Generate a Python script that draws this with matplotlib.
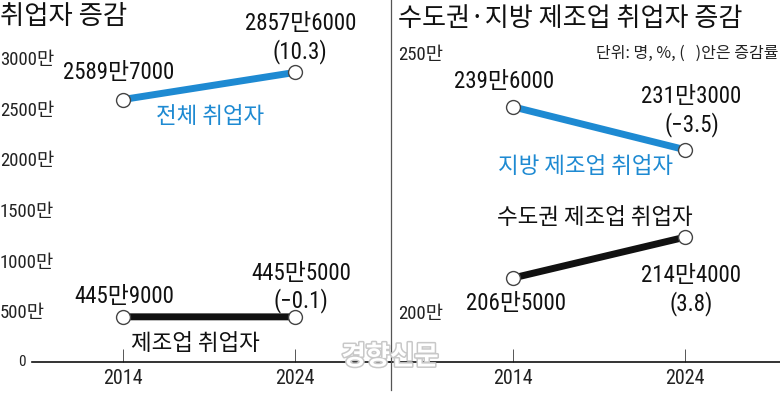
import matplotlib
matplotlib.use("Agg")
import matplotlib.pyplot as plt
from matplotlib.lines import Line2D
import matplotlib.patheffects as pe

# ---------------- data ----------------
years = [2014, 2024]
total_emp = [2589.7, 2857.6]          # 만 명
mfg_emp = [445.9, 445.5]
total_labels = ["2589만7000", "2857만6000"]
mfg_labels = ["445만9000", "445만5000"]
total_rate = "(10.3)"
mfg_rate = "(−0.1)"

region_mfg = [239.6, 231.3]
capital_mfg = [206.5, 214.4]
region_labels = ["239만6000", "231만3000"]
capital_labels = ["206만5000", "214만4000"]
region_rate = "(−3.5)"
capital_rate = "(3.8)"

left_yticks = [500, 1000, 1500, 2000, 2500, 3000]
left_yticklabels = ["500만", "1000만", "1500만", "2000만", "2500만", "3000만"]
right_yticks = [200, 250]
right_yticklabels = ["200만", "250만"]
xtick_labels = ["2014", "2024"]

# ---------------- style ----------------
W, H, DPI = 780, 394, 100
BLUE = "#1e8ad2"
NUM = ["Roboto Condensed", "Archivo Narrow", "Noto Sans CJK KR", "DejaVu Sans"]
KR = ["Noto Sans CJK KR", "DejaVu Sans"]
plt.rcParams["font.family"] = NUM

fig = plt.figure(figsize=(W / DPI, H / DPI), dpi=DPI)

def px_ax(x0, x1, ytop, ybot):
    return fig.add_axes([x0 / W, 1 - ybot / H, (x1 - x0) / W, (ybot - ytop) / H])

ax1 = px_ax(32, 390, 40, 362)
ax2 = px_ax(390, 780, 40, 362)

ax1.set_xlim(2008.74, 2029.51)
ax1.set_ylim(0, 3177.6)
ax2.set_xlim(2006.88, 2029.51)
ax2.set_ylim(190.28, 252.5)

for ax in (ax1, ax2):
    for s in ("top", "right", "left"):
        ax.spines[s].set_visible(False)
    ax.spines["bottom"].set_linewidth(1.2)
    ax.spines["bottom"].set_color("#111111")
    ax.set_xticks(years)
    ax.set_xticklabels(xtick_labels, fontsize=14.5)
    ax.tick_params(axis="x", direction="in", length=9.5, width=0.7, color="#555555",
                   pad=5, labelcolor="#222222")
    ax.patch.set_alpha(0)

ax1.set_yticks(left_yticks)
ax1.set_yticklabels(left_yticklabels, fontsize=13.5, ha="left")
ax1.tick_params(axis="y", length=0, pad=23.0, labelcolor="#222222")
ax1.annotate("0", xy=(0, 0), xycoords=("axes fraction", "data"), xytext=(-10, 0),
             textcoords="offset pixels", ha="center", va="center", fontsize=11, color="#222222")

ax2.set_yticks(right_yticks)
ax2.set_yticklabels(right_yticklabels, fontsize=13.5, ha="left")
ax2.tick_params(axis="y", length=0, pad=-5.8, labelcolor="#222222")

mk = dict(marker="o", markersize=10, markerfacecolor="white", markeredgecolor="#444444",
          markeredgewidth=1.0, solid_capstyle="butt", zorder=3)
ax1.plot(years, total_emp, color=BLUE, lw=5, **mk)
ax1.plot(years, mfg_emp, color="#111111", lw=5, **mk)
ax2.plot(years, region_mfg, color=BLUE, lw=5, **mk)
ax2.plot(years, capital_mfg, color="#111111", lw=5, **mk)

LBL = dict(textcoords="offset pixels", ha="center", va="center", fontsize=16.5, color="#111111")

def lab(ax, x, y, s, dx, dy):
    ax.annotate(s, xy=(x, y), xytext=(dx, dy), **LBL)

lab(ax1, years[0], total_emp[0], total_labels[0], -4, 27)
lab(ax1, years[1], total_emp[1], total_labels[1], 6, 49)
lab(ax1, years[1], total_emp[1], total_rate, 5, 21)
lab(ax1, years[0], mfg_emp[0], mfg_labels[0], 2, 20)
lab(ax1, years[1], mfg_emp[1], mfg_labels[1], 6, 43)
lab(ax1, years[1], mfg_emp[1], mfg_rate, 6, 16)

lab(ax2, years[0], region_mfg[0], region_labels[0], -9, 25)
lab(ax2, years[1], region_mfg[1], region_labels[1], 6, 53)
lab(ax2, years[1], region_mfg[1], region_rate, 7, 25)
lab(ax2, years[0], capital_mfg[0], capital_labels[0], 3, -25)
lab(ax2, years[1], capital_mfg[1], capital_labels[1], 6, -38)
lab(ax2, years[1], capital_mfg[1], capital_rate, 6, -66)

# series names
SER = dict(ha="center", va="center", fontsize=16.2, family=KR)
ax1.text(0.497, 0.761, "전체 취업자", transform=ax1.transAxes, color=BLUE, **SER)
ax1.text(0.455, 0.059, "제조업 취업자", transform=ax1.transAxes, color="#111111", **SER)
ax2.text(0.50, 0.606, "지방 제조업 취업자", transform=ax2.transAxes, color=BLUE, **SER)
ax2.text(0.526, 0.450, "수도권 제조업 취업자", transform=ax2.transAxes, color="#111111", **SER)

# titles and notes
fig.text(0.0, 1 - 16 / H, "취업자 증감", ha="left", va="center", fontsize=19,
         family=KR, color="#111111")
fig.text(398 / W, 1 - 19 / H, "수도권·지방 제조업 취업자 증감", ha="left", va="center",
         fontsize=18.8, family=KR, color="#111111")
fig.text(778 / W, 1 - 53 / H, "단위: 명, %, (   )안은 증감률", ha="right", va="center",
         fontsize=11.5, family=KR, color="#222222")

# separator
fig.add_artist(Line2D([390.5 / W, 390.5 / W], [1 - 390 / H, 1.0], transform=fig.transFigure,
                      color="#555555", lw=0.9))

# watermark
fig.text(390 / W, 1 - 357 / H, "경향신문", ha="center", va="center", fontsize=19,
         family=KR, weight="bold", color="white", zorder=10,
         path_effects=[pe.withStroke(linewidth=2.2, foreground="#c8c8c8")])

fig.savefig("out.png", dpi=DPI, facecolor="white")
